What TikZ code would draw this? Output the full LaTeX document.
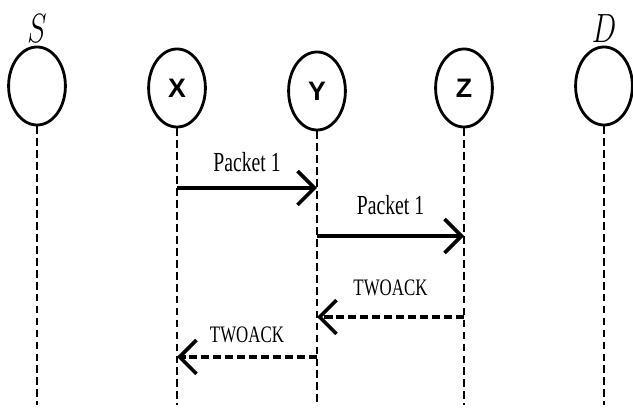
\documentclass[tikz,border=0pt]{standalone}
\usepackage{fontspec}
\setmainfont{Liberation Serif}
\setsansfont{Liberation Sans}
\usepackage{graphicx}
\usetikzlibrary{positioning, arrows.meta, shapes.geometric}

\newcommand{\tall}[1]{\scalebox{1}[1.4]{#1}}

\begin{document}
\begin{tikzpicture}[
x=0.025cm, y=-0.025cm,
host/.style={ellipse, draw, line width=2pt, minimum width=1.42cm, minimum height=1.95cm, inner sep=0pt, font=\sffamily\bfseries\fontsize{19}{21}\selectfont},
ename/.style={inner sep=1pt, font=\fontsize{21}{24}\selectfont},
life/.style={dash pattern=on 5.5pt off 3pt, line width=1.6pt},
sel/.style={-{Straight Barb[length=12pt, width=24pt]}, line width=2.6pt},
ack/.style={sel, dash pattern=on 6pt off 2.5pt},
lbl/.style={inner sep=1pt, font=\fontsize{14}{16}\selectfont},
acklbl/.style={lbl, font=\fontsize{12}{14}\selectfont}
]
\useasboundingbox (0,0) rectangle (633,412);

\node[host] (S) at (37,86) {};
\node[host] (X) at (177,88) {X};
\node[host] (Y) at (317,91) {Y};
\node[host] (Z) at (464,88) {Z};
\node[host] (D) at (604,86) {};

\node[ename, above=1pt of S] (Sname) {\tall{$S$}};
\node[ename, above=1pt of D] (Dname) {\tall{$D$}};

\coordinate (bottom) at (0,405);
\foreach \n in {S,X,Y,Z,D}
  \draw[life] (\n.south) -- (\n.south |- bottom);

\coordinate (m1) at (0,188);
\coordinate (m2) at (0,236);
\coordinate (m3) at (0,317);
\coordinate (m4) at (0,357);

\draw[sel] (X.south |- m1) -- node[lbl, above=9.5pt] {\tall{Packet 1}} (Y.south |- m1);
\draw[sel] (Y.south |- m2) -- node[lbl, above=12.5pt] {\tall{Packet 1}} (Z.south |- m2);
\draw[ack] (Z.south |- m3) -- node[acklbl, above=13pt] {\tall{TWOACK}} (Y.south |- m3);
\draw[ack] (Y.south |- m4) -- node[acklbl, above=7.5pt] {\tall{TWOACK}} (X.south |- m4);

\end{tikzpicture}
\end{document}
